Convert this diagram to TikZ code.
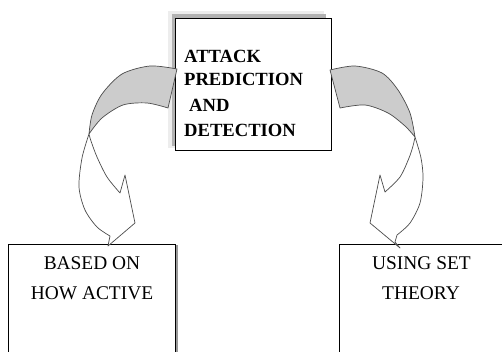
\documentclass[tikz,border=0pt]{standalone}
\usepackage{fontspec}
\setmainfont{Liberation Serif}
\begin{document}
\begin{tikzpicture}[x=1pt,y=-1pt,
  box/.style={draw=black,line width=0.8pt,fill=white,inner sep=0pt},
  twist/.style={draw=black!70,line width=0.7pt,line join=round},
  back/.style={twist,fill=black!20},
  front/.style={twist,fill=white},
  toptext/.style={font=\fontsize{18.6}{22}\selectfont\bfseries,anchor=base west,inner sep=0pt},
  bottext/.style={font=\fontsize{19.4}{23}\selectfont,anchor=base,inner sep=0pt},
  shadowline/.style={draw=black!40,line width=1.4pt}]
\useasboundingbox (0,0) rectangle (502,352);
\clip (0,0) rectangle (502,352);
% soft shadow of the top box
\fill[black!7] (168,11.5) rectangle (324,148);
\fill[black!30] (172,14.5) rectangle (326,146);
% top box
\node[box,anchor=north west,minimum width=156,minimum height=132] (top) at (175,18) {};
\node[toptext] (t1) at (184,63) {ATTACK};
\node[toptext] (t2) at (184,86) {PREDICTION};
\node[toptext] (t3) at (189,111.5) {AND};
\node[toptext] (t4) at (184,137) {DETECTION};
% bottom boxes
\node[box,anchor=north west,minimum width=167,minimum height=130] (lb) at (8,244) {};
\draw[shadowline] ([xshift=1.3pt,yshift=-1pt]lb.north east) -- ([xshift=1.3pt]lb.south east);
\node[box,anchor=north west,minimum width=175,minimum height=130] (rb) at (339,244) {};
\node[bottext] (l1) at (92,269) {BASED ON};
\node[bottext] (l2) at (92,299.3) {HOW ACTIVE};
\node[bottext] (r1) at (421.5,269) {USING SET};
\node[bottext] (r2) at (421,299.3) {THEORY};
% left twisted arrow
\filldraw[back] plot[smooth] coordinates {(177,69) (150,66) (122,74) (102,94) (92,115) (89,134)}
  -- plot[smooth] coordinates {(89,134) (102,118) (123,105) (147,103) (168,108)} -- cycle;
\filldraw[front] plot[smooth] coordinates {(89,134) (82,158) (79,187) (85,210) (97,227) (110,236)}
  -- (108,246) -- (135,223) -- (125,175) -- (120,193)
  -- plot[smooth] coordinates {(120,193) (107,177) (97,157) (91,141) (89,134)} -- cycle;
% right twisted arrow
\filldraw[back] plot[smooth] coordinates {(330,70) (355,66) (382,73) (398,90) (410,113) (415,137)}
  -- plot[smooth] coordinates {(415,137) (405,126) (388,113) (365,105) (340,108)} -- cycle;
\filldraw[front] plot[smooth] coordinates {(415,137) (421,158) (423,178) (420,203) (410,223) (397,235)}
  -- (395,242) -- (400,248) -- (370,223) -- (380,175) -- (385,192)
  -- plot[smooth] coordinates {(385,192) (400,177) (409,158) (413,146) (415,137)} -- cycle;
\end{tikzpicture}
\end{document}
